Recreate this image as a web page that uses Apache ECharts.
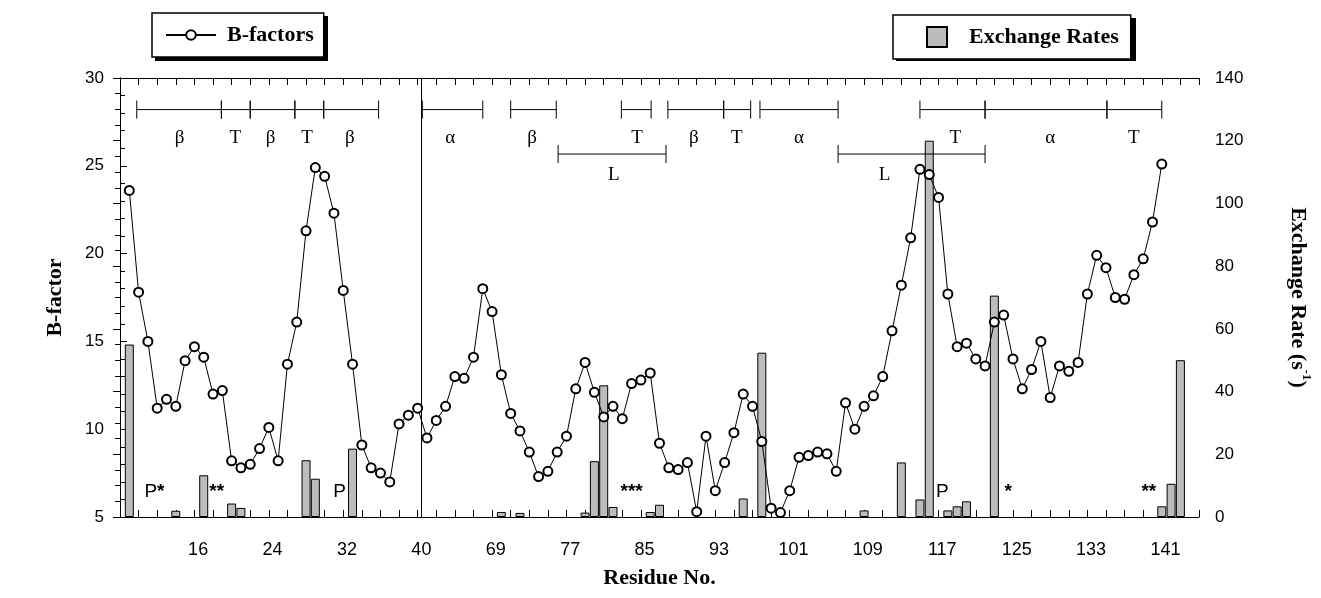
<!DOCTYPE html>
<html>
<head>
<meta charset="utf-8">
<script src="https://cdn.jsdelivr.net/npm/echarts@6/dist/echarts.min.js"></script>
<style>
  html, body { margin: 0; padding: 0; background: #fff; }
  #chart { width: 1321px; height: 598px; }
</style>
</head>
<body>
<div id="chart"></div>
<script>
// B-factor per position along the residue axis (positions 1..112)
const bFactors = [
  23.6, 17.8, 15.0, 11.2, 11.7, 11.3, 13.9, 14.7, 14.1, 12.0,
  12.2, 8.2, 7.8, 8.0, 8.9, 10.1, 8.2, 13.7, 16.1, 21.3,
  24.9, 24.4, 22.3, 17.9, 13.7, 9.1, 7.8, 7.5, 7.0, 10.3,
  10.8, 11.2, 9.5, 10.5, 11.3, 13.0, 12.9, 14.1, 18.0, 16.7,
  13.1, 10.9, 9.9, 8.7, 7.3, 7.6, 8.7, 9.6, 12.3, 13.8,
  12.1, 10.7, 11.3, 10.6, 12.6, 12.8, 13.2, 9.2, 7.8, 7.7,
  8.1, 5.3, 9.6, 6.5, 8.1, 9.8, 12.0, 11.3, 9.3, 5.5,
  5.25, 6.5, 8.4, 8.5, 8.7, 8.6, 7.6, 11.5, 10.0, 11.3,
  11.9, 13.0, 15.6, 18.2, 20.9, 24.8, 24.5, 23.2, 17.7, 14.7,
  14.9, 14.0, 13.6, 16.1, 16.5, 14.0, 12.3, 13.4, 15.0, 11.8,
  13.6, 13.3, 13.8, 17.7, 19.9, 19.2, 17.5, 17.4, 18.8, 19.7,
  21.8, 25.1
];

// exchange rates (s^-1): position along the axis and value
const exchangePos = [1, 6, 9, 12, 13, 20, 21, 25, 41, 43, 50, 51, 52, 53, 57, 58,
  67, 69, 80, 84, 86, 87, 89, 90, 91, 94, 112, 113, 114];
const exchangeRate = [55, 2, 13.3, 4.3, 2.9, 18.1, 12.2, 21.8, 1.6, 1.3, 1.4, 17.8, 42, 3.2, 1.6, 3.9,
  5.9, 52.4, 2.1, 17.4, 5.6, 120, 2.1, 3.4, 5.0, 70.6, 3.4, 10.6, 50];

// residue numbers printed under the axis
const residueTickPos = [8.4, 16.4, 24.4, 32.4, 40.4, 48.4, 56.4, 64.4, 72.4, 80.4, 88.4, 96.4, 104.4, 112.4];
const residueTickLabels = ['16', '24', '32', '40', '69', '77', '85', '93', '101', '109', '117', '125', '133', '141'];

// break between the two residue ranges
const chainBreak = 32.4;

// secondary structure: [from, to, label position, label]
const ssTop = [
  [1.8, 10.9, 6.4, 'β'], [10.9, 14.0, 12.4, 'T'], [14.0, 18.8, 16.2, 'β'],
  [18.8, 21.9, 20.1, 'T'], [21.9, 27.8, 24.7, 'β'], [32.5, 39.0, 35.5, 'α'],
  [42.0, 46.9, 44.3, 'β'], [53.9, 57.1, 55.6, 'T'], [58.9, 64.9, 61.7, 'β'],
  [64.9, 67.8, 66.3, 'T'], [68.8, 77.2, 73.0, 'α'], [86.0, 93.0, 89.8, 'T'],
  [93.0, 106.1, 100.0, 'α'], [106.1, 112.0, 109.0, 'T']
];
const ssLoop = [[47.1, 58.7, 53.1, 'L'], [77.2, 93.0, 82.2, 'L']];

// proline / asterisk markers near the baseline
const notePos = [3.7, 10.4, 23.6, 55.0, 88.4, 95.5, 110.6];
const noteP = ['P', '', 'P', '', 'P', '', ''];
const noteStars = ['*', '**', '', '***', '', '*', '**'];

const SANS = '"Liberation Sans", Arial, sans-serif';
const SERIF = '"Liberation Serif", "Times New Roman", serif';

const chart = echarts.init(document.getElementById('chart'));

function labelFor(v) {
  const i = residueTickPos.findIndex(p => Math.abs(p - v) < 0.01);
  return i >= 0 ? residueTickLabels[i] : '';
}

function segmentItem(seg, lineY, labelY, api) {
  const s = api.coord([seg[0], lineY]);
  const e = api.coord([seg[1], lineY]);
  const l = api.coord([seg[2], labelY]);
  const stroke = { stroke: '#000', lineWidth: 1 };
  return {
    type: 'group',
    children: [
      { type: 'line', shape: { x1: s[0], y1: s[1], x2: e[0], y2: e[1] }, style: stroke },
      { type: 'line', shape: { x1: s[0], y1: s[1] - 9, x2: s[0], y2: s[1] + 9 }, style: stroke },
      { type: 'line', shape: { x1: e[0], y1: e[1] - 9, x2: e[0], y2: e[1] + 9 }, style: stroke },
      { type: 'text', x: l[0], y: l[1], style: { text: seg[3], font: '19px ' + SERIF, fill: '#000', align: 'center', verticalAlign: 'middle' } }
    ]
  };
}

const axisBlack = { lineStyle: { color: '#000', width: 1 } };
const legendText = { fontFamily: SERIF, fontWeight: 'bold', fontSize: 22, color: '#000' };

const option = {
  animation: false,
  backgroundColor: '#fff',
  grid: { left: 120, right: 122, top: 78, bottom: 81 },
  // drop shadows behind the two legend boxes
  graphic: [
    { type: 'rect', z: 1, shape: { x: 155, y: 16, width: 173, height: 45 }, style: { fill: '#000' } },
    { type: 'rect', z: 1, shape: { x: 896, y: 18, width: 240, height: 43 }, style: { fill: '#000' } }
  ],
  legend: [
    {
      data: ['B-factors'], left: 152, top: 13, selectedMode: false, z: 5,
      padding: [11, 10, 11, 13], itemWidth: 50, itemHeight: 12,
      backgroundColor: '#fff', borderColor: '#000', borderWidth: 1.5,
      textStyle: { ...legendText, padding: [0, 0, 0, 6] }
    },
    {
      data: ['Exchange Rates'], left: 893, top: 15, selectedMode: false, z: 5,
      padding: [11, 12, 11, 33], itemWidth: 20, itemHeight: 20, icon: 'rect',
      backgroundColor: '#fff', borderColor: '#000', borderWidth: 1.5,
      textStyle: { ...legendText, padding: [0, 0, 0, 17] }
    }
  ],
  xAxis: [
    {
      type: 'value', min: 0, max: 116, interval: 2,
      axisLine: { show: true, ...axisBlack },
      axisTick: { inside: true, length: 7, ...axisBlack },
      splitLine: { show: false },
      axisLabel: {
        customValues: residueTickPos, formatter: labelFor,
        margin: 24, fontFamily: SANS, fontSize: 18, color: '#000'
      },
      name: 'Residue No.', nameLocation: 'middle', nameGap: 50,
      nameTextStyle: { fontFamily: SERIF, fontWeight: 'bold', fontSize: 22, color: '#000' }
    },
    {
      type: 'value', position: 'top', min: 0, max: 116, interval: 2,
      axisLine: { show: true, ...axisBlack },
      axisTick: { inside: true, length: 7, ...axisBlack },
      axisLabel: { show: false },
      splitLine: { show: false }
    }
  ],
  yAxis: [
    {
      type: 'value', min: 5, max: 30, interval: 5,
      axisLine: { show: true, ...axisBlack },
      axisTick: { inside: true, length: 7, ...axisBlack },
      minorTick: { show: true, splitNumber: 5, length: 5, ...axisBlack },
      splitLine: { show: false },
      axisLabel: { margin: 16, fontFamily: SANS, fontSize: 17, color: '#000' },
      name: 'B-factor', nameLocation: 'middle', nameGap: 54, nameRotate: 90,
      nameTextStyle: { fontFamily: SERIF, fontWeight: 'bold', fontSize: 22, color: '#000' }
    },
    {
      type: 'value', min: 0, max: 140, interval: 20, position: 'right',
      axisLine: { show: true, ...axisBlack },
      axisTick: { inside: true, length: 7, ...axisBlack },
      minorTick: { show: true, splitNumber: 4, length: 5, ...axisBlack },
      splitLine: { show: false },
      axisLabel: { margin: 16, fontFamily: SANS, fontSize: 17, color: '#000' },
      name: '{t|Exchange Rate (s}{s|-1}{t|)}', nameLocation: 'middle', nameGap: 88, nameRotate: -90,
      nameTextStyle: {
        color: '#000',
        rich: {
          t: { fontFamily: SERIF, fontWeight: 'bold', fontSize: 22, color: '#000', lineHeight: 26, verticalAlign: 'bottom' },
          s: { fontFamily: SERIF, fontWeight: 'bold', fontSize: 13, color: '#000', lineHeight: 26, verticalAlign: 'top' }
        }
      }
    }
  ],
  series: [
    {
      name: 'Exchange Rates', type: 'bar', xAxisIndex: 0, yAxisIndex: 1,
      barWidth: 9,
      itemStyle: { color: '#bcbcbc', borderColor: '#000', borderWidth: 1 },
      data: exchangePos.map((p, i) => [p, exchangeRate[i]]),
      z: 2
    },
    {
      name: 'B-factors', type: 'line', xAxisIndex: 0, yAxisIndex: 0,
      symbol: 'emptyCircle', symbolSize: 9,
      lineStyle: { color: '#000', width: 1 },
      itemStyle: { color: '#000', borderColor: '#000', borderWidth: 1 },
      data: bFactors.map((v, i) => [i + 1, v]),
      markLine: {
        silent: true, symbol: 'none', label: { show: false },
        lineStyle: { color: '#000', width: 1, type: 'solid' },
        data: [{ xAxis: chainBreak }]
      },
      z: 5
    },
    {
      type: 'custom', xAxisIndex: 0, yAxisIndex: 0, silent: true,
      data: ssTop.map(s => [s[0], s[1]]),
      renderItem: (params, api) => segmentItem(ssTop[params.dataIndex], 28.2, 26.6, api),
      z: 3
    },
    {
      type: 'custom', xAxisIndex: 0, yAxisIndex: 0, silent: true,
      data: ssLoop.map(s => [s[0], s[1]]),
      renderItem: (params, api) => segmentItem(ssLoop[params.dataIndex], 25.67, 24.5, api),
      z: 3
    },
    {
      type: 'custom', xAxisIndex: 0, yAxisIndex: 0, silent: true,
      data: notePos.map(p => [p, 6.42]),
      renderItem: (params, api) => {
        const c = api.coord([api.value(0), api.value(1)]);
        const i = params.dataIndex;
        const txt = (noteP[i] ? '{p|' + noteP[i] + '}' : '') + (noteStars[i] ? '{a|' + noteStars[i] + '}' : '');
        return {
          type: 'text', x: c[0], y: c[1],
          style: {
            text: txt, align: 'center', verticalAlign: 'middle', fill: '#000',
            rich: {
              p: { font: '19px ' + SANS, fill: '#000' },
              a: { font: 'bold 19px ' + SANS, fill: '#000' }
            }
          }
        };
      },
      z: 6
    }
  ]
};

chart.setOption(option);
</script>
</body>
</html>
